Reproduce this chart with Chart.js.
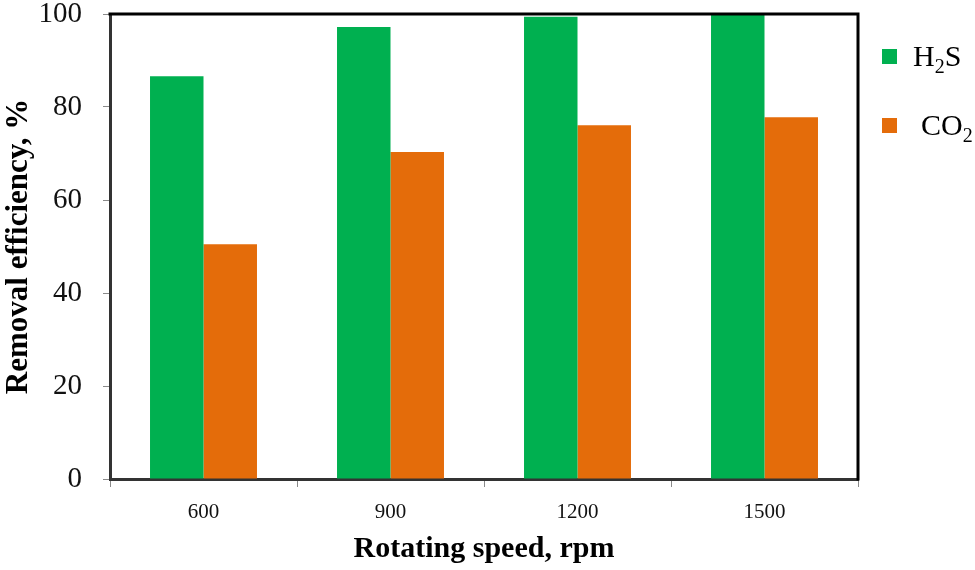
<!DOCTYPE html>
<html>
<head>
<meta charset="utf-8">
<script src="https://cdn.jsdelivr.net/npm/chart.js@4.4.1/dist/chart.umd.min.js"></script>
<style>
  html, body { margin: 0; padding: 0; background: #fff; }
  #wrap { width: 975px; height: 570px; }
</style>
</head>
<body>
<div id="wrap"><canvas id="c" width="975" height="570"></canvas></div>
<script>
const categories = ['600', '900', '1200', '1500'];
const h2sValues = [86.6, 97.2, 99.4, 100];
const co2Values = [50.5, 70.3, 76.1, 77.8];
const seriesLabels = ['H₂S', 'CO₂'];
const seriesColors = ['#00B050', '#E46C0A'];
const yTicks = [0, 20, 40, 60, 80, 100];
const xTitle = 'Rotating speed, rpm';
const yTitle = 'Removal efficiency, %';

const FONT = "'Liberation Serif', 'Times New Roman', serif";

function drawRich(ctx, text, x, y, size) {
  const subs = '₀₁₂₃₄₅₆₇₈₉';
  let cx = x;
  for (const ch of text) {
    const si = subs.indexOf(ch);
    if (si >= 0) {
      ctx.font = `${Math.round(size * 0.65)}px ${FONT}`;
      ctx.fillText(String(si), cx, y + size * 0.22);
      cx += ctx.measureText(String(si)).width;
    } else {
      ctx.font = `${size}px ${FONT}`;
      ctx.fillText(ch, cx, y);
      cx += ctx.measureText(ch).width;
    }
  }
}

const framePlugin = {
  id: 'frame',
  afterDatasetsDraw(chart) {
    const { ctx, chartArea: a } = chart;
    ctx.save();
    ctx.strokeStyle = '#000';
    ctx.lineWidth = 3;
    ctx.beginPath();
    ctx.moveTo(a.left - 1.5, a.top);
    ctx.lineTo(a.right, a.top);
    ctx.lineTo(a.right, a.bottom + 1.5);
    ctx.stroke();
    ctx.restore();
  }
};

const legendPlugin = {
  id: 'customLegend',
  afterDraw(chart) {
    const { ctx, chartArea: a } = chart;
    ctx.save();
    chart.data.datasets.forEach((ds, i) => {
      const y = a.top + 35 + i * 69;
      ctx.fillStyle = ds.backgroundColor;
      ctx.fillRect(a.right + 24, y, 15, 15);
      ctx.fillStyle = '#000';
      ctx.textBaseline = 'alphabetic';
      ctx.textAlign = 'left';
      drawRich(ctx, ds.label, a.right + 55 + i * 8, y + 17, 30);
    });
    ctx.restore();
  }
};

new Chart(document.getElementById('c'), {
  type: 'bar',
  data: {
    labels: categories,
    datasets: [
      { label: seriesLabels[0], data: h2sValues, backgroundColor: seriesColors[0], borderWidth: 0 },
      { label: seriesLabels[1], data: co2Values, backgroundColor: seriesColors[1], borderWidth: 0 }
    ]
  },
  options: {
    responsive: false,
    animation: false,
    devicePixelRatio: 1,
    layout: { padding: { top: 14, right: 117, left: 0, bottom: 0 } },
    datasets: { bar: { categoryPercentage: 0.572, barPercentage: 1.0 } },
    plugins: {
      legend: { display: false },
      tooltip: { enabled: false }
    },
    scales: {
      x: {
        afterFit(scale) { scale.height = 91; scale.paddingLeft = 0; scale.paddingRight = 0; },
        grid: { offset: true, drawOnChartArea: false, drawTicks: true, tickLength: 8, color: '#8a8a8a', lineWidth: 1 },
        border: { display: true, color: '#333', width: 3 },
        ticks: { color: '#111', padding: 13, font: { family: FONT, size: 21 } },
        title: { display: true, text: xTitle, color: '#000', padding: { top: 0, bottom: 3 }, font: { family: FONT, size: 30, weight: 'bold' } }
      },
      y: {
        min: 0, max: 100,
        afterFit(scale) { scale.width = 110; scale.paddingTop = 0; scale.paddingBottom = 0; },
        afterBuildTicks(scale) { scale.ticks = yTicks.map(v => ({ value: v })); },
        grid: { drawOnChartArea: false, drawTicks: true, tickLength: 7, color: '#8a8a8a', lineWidth: 1 },
        border: { display: true, color: '#333', width: 3 },
        ticks: { color: '#111', padding: 21, font: { family: FONT, size: 29 } },
        title: { display: true, text: yTitle, color: '#000', padding: { top: 0, bottom: 0 }, font: { family: FONT, size: 31, weight: 'bold' } }
      }
    }
  },
  plugins: [framePlugin, legendPlugin]
});
</script>
</body>
</html>
